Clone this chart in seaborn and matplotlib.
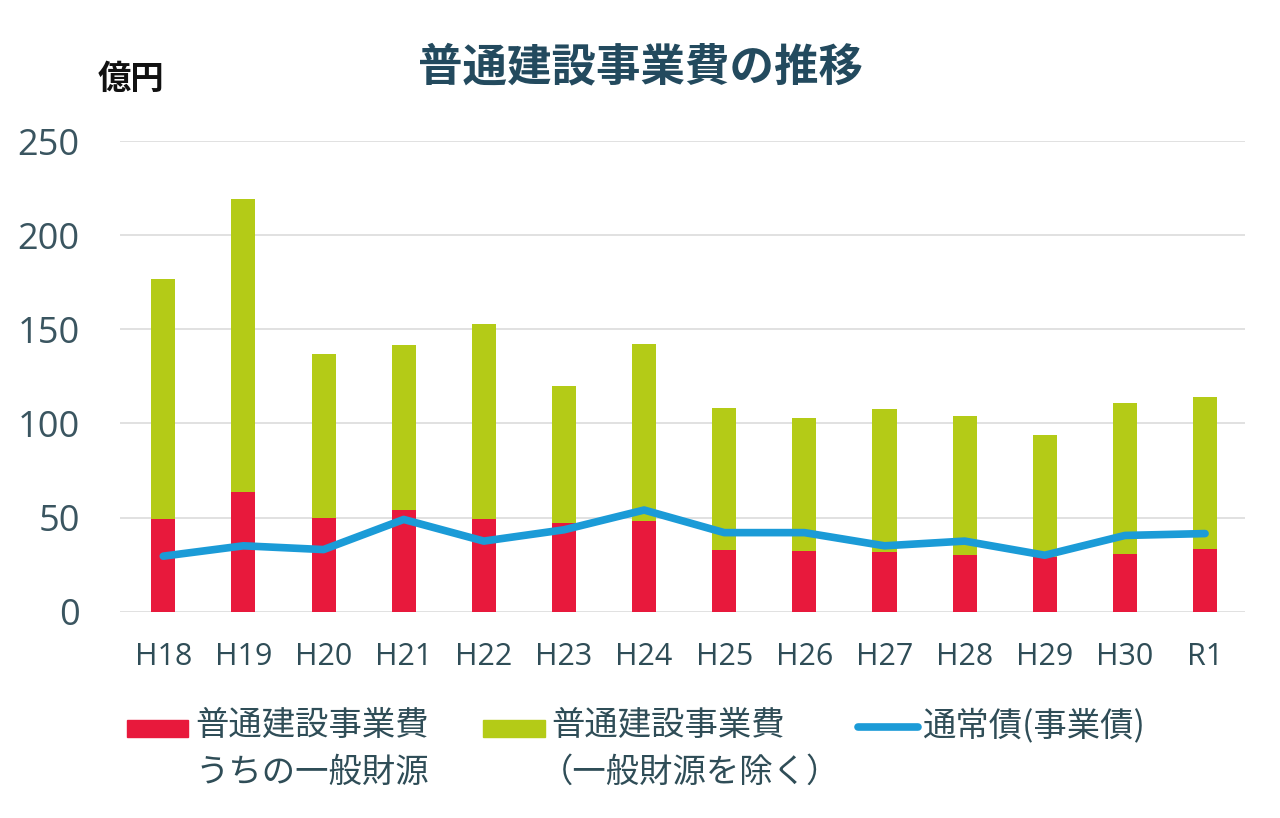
import matplotlib
matplotlib.use("Agg")
import matplotlib.pyplot as plt
import seaborn as sns
from matplotlib.patches import Rectangle
from matplotlib.lines import Line2D

# ---- data (億円) ----
years = ["H18", "H19", "H20", "H21", "H22", "H23", "H24",
         "H25", "H26", "H27", "H28", "H29", "H30", "R1"]
general_source = [49.5, 63.5, 50.0, 54.0, 49.5, 47.0, 48.0,
                  33.0, 32.5, 31.5, 30.0, 29.0, 30.5, 33.5]
other_source = [127.0, 155.5, 87.0, 87.5, 103.5, 73.0, 94.0,
                75.0, 70.5, 76.0, 74.0, 65.0, 80.5, 80.5]
bonds = [29.5, 35.0, 33.0, 49.0, 37.5, 43.5, 54.0,
         42.0, 42.0, 35.0, 37.5, 30.0, 40.5, 41.5]
yticks = [0, 50, 100, 150, 200, 250]

totals = [a + b for a, b in zip(general_source, other_source)]

sns.set_theme(style="white")
plt.rcParams["font.family"] = ["Noto Sans CJK JP", "DejaVu Sans"]

RED = "#e8193c"
GREEN = "#b4cb17"
BLUE = "#1b9bd7"
TXT = "#2f4d57"

fig = plt.figure(figsize=(12.8, 8.18), dpi=100)
ax = fig.add_axes([0.09375, 0.2522, 0.879, 0.5754])

sns.barplot(x=years, y=totals, color=GREEN, width=0.3, saturation=1,
            linewidth=0, ax=ax, zorder=2)
sns.barplot(x=years, y=general_source, color=RED, width=0.3, saturation=1,
            linewidth=0, ax=ax, zorder=3)
sns.lineplot(x=years, y=bonds, sort=False, color=BLUE, lw=5.5,
             ax=ax, zorder=4)

ax.set_ylim(0, 250)
ax.set_xlim(-0.54, 13.5)
ax.set_yticks(yticks)
ax.set_yticklabels([str(t) for t in yticks])
ax.yaxis.grid(True, color="#dcdcdc", lw=1.2, zorder=0)
ax.xaxis.grid(False)
for s in ax.spines.values():
    s.set_visible(False)
ax.tick_params(axis="y", length=0, pad=29, labelsize=26, labelcolor="#3a5560")
ax.tick_params(axis="x", length=0, pad=22, labelsize=22, labelcolor=TXT)
for lbl in ax.get_xticklabels() + ax.get_yticklabels():
    lbl.set_family(["Open Sans", "DejaVu Sans"])
ax.set_xlabel("")
ax.set_ylabel("")

fig.text(0.5, 0.918, "普通建設事業費の推移", ha="center", va="center",
         fontsize=32, fontweight="bold", color="#234a5e")
fig.text(0.0765, 0.903, "億円", ha="left", va="center",
         fontsize=24, fontweight="bold", color="#111111")

# ---- legend ----
H = 818.0
W = 1280.0
def fx(x):
    return x / W
def fy(y):
    return 1 - y / H

fig.add_artist(Rectangle((fx(127), fy(737)), fx(61), 17 / H,
                         transform=fig.transFigure, color=RED))
fig.add_artist(Rectangle((fx(483), fy(737)), fx(62), 17 / H,
                         transform=fig.transFigure, color=GREEN))
fig.add_artist(Line2D([fx(858), fx(918)], [fy(727), fy(727)],
                      transform=fig.transFigure, color=BLUE, lw=5.5,
                      solid_capstyle="round"))
lkw = dict(fontsize=24, color=TXT, ha="left", va="center")
fig.text(fx(195), fy(726), "普通建設事業費", **lkw)
fig.text(fx(195), fy(772), "うちの一般財源", **lkw)
fig.text(fx(551), fy(726), "普通建設事業費", **lkw)
fig.text(fx(540), fy(772), "（一般財源を除く）", **lkw)
fig.text(fx(922), fy(726), "通常債(事業債)", **lkw)

fig.savefig("out.png", dpi=100, facecolor="white")
